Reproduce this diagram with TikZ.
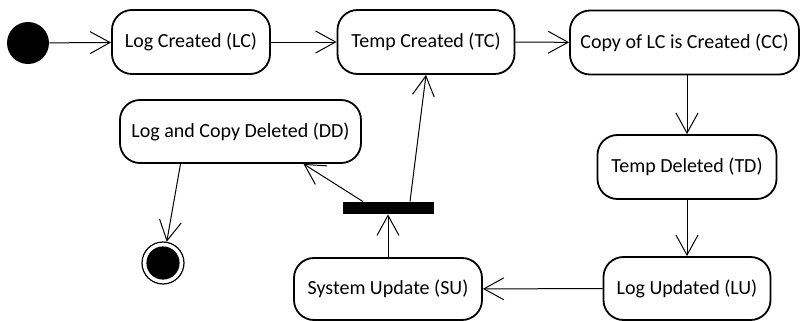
\documentclass[tikz,border=0pt]{standalone}
\usepackage{fontspec}
\setmainfont{Carlito}
\usetikzlibrary{arrows.meta,shapes.geometric}

\begin{document}
\begin{tikzpicture}[x=0.5pt,y=-0.5pt]
            \tikzset{StateStyle/.style={draw,rounded corners=10pt,line width=0.9pt,
                     minimum height=32pt,inner sep=2pt,font=\fontsize{10}{12}\selectfont}};
            \tikzset{InitStyle/.style={circle,fill=black,minimum size=21pt,inner sep=0pt}};
            \tikzset{FinalStyle/.style={circle,draw,line width=0.6pt,minimum size=21pt,inner sep=0pt,
                     path picture={\fill (path picture bounding box.center) circle (8.3pt);}}};
            \tikzset{BarStyle/.style={rectangle,fill=black,minimum width=45.5pt,minimum height=6pt,inner sep=0pt}};
            \tikzset{EdgeStyle/.style={line width=0.5pt,-{Straight Barb[length=10pt,width=11pt,line width=0.5pt]}}};

            \useasboundingbox (0,0) rectangle (800,321);

            \node[InitStyle] (init) at (28,43) {};
            \node[StateStyle,minimum width=79pt] (LC) at (191,42) {Log Created (LC)};
            \node[StateStyle,minimum width=88.5pt] (TC) at (426,42) {Temp Created (TC)};
            \node[StateStyle,minimum width=114.5pt] (CC) at (684.5,42.5) {Copy of LC is Created (CC)};
            \node[StateStyle,minimum width=120.5pt,minimum height=31.5pt] (DD) at (240.5,131.5) {Log and Copy Deleted (DD)};
            \node[StateStyle,minimum width=89.5pt] (TD) at (687,167) {Temp Deleted (TD)};
            \node[StateStyle,minimum width=83.5pt,minimum height=31.5pt] (LU) at (687,288.5) {Log Updated (LU)};
            \node[StateStyle,minimum width=94pt,minimum height=31pt] (SU) at (388,289) {System Update (SU)};
            \node[BarStyle] (bar) at (388,208) {};
            \node[FinalStyle] (end) at (163,263) {};

            \draw[EdgeStyle] (init) -- (LC);
            \draw[EdgeStyle] (LC) -- (TC);
            \draw[EdgeStyle] (TC) -- (CC);
            \draw[EdgeStyle] (CC.south -| TD.north) -- (TD.north);
            \draw[EdgeStyle] (TD) -- (LU);
            \draw[EdgeStyle] (LU) -- (SU);
            \draw[EdgeStyle] (SU) -- (bar);
            \draw[EdgeStyle] ([xshift=11pt]bar.north) -- (TC.south);
            \draw[EdgeStyle] ([xshift=-12.5pt]bar.north) -- ([xshift=31.5pt]DD.south);
            \draw[EdgeStyle] ([xshift=-30pt]DD.south) -- (end);
          \end{tikzpicture}
\end{document}
